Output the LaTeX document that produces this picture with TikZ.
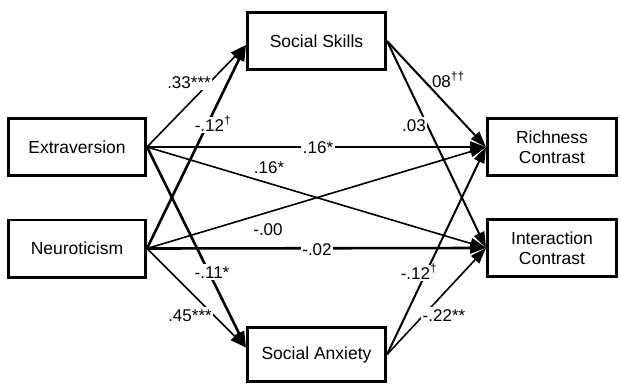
\documentclass[tikz,border=0pt]{standalone}
\usepackage{fontspec}
\setmainfont{Liberation Sans}
\usetikzlibrary{arrows.meta,calc}
\begin{document}
\begin{tikzpicture}[x=1pt,y=-1pt,
  box/.style={draw, line width=2.6pt, align=center, font=\fontsize{17.5}{20}\selectfont, inner sep=0pt},
  lbl/.style={font=\fontsize{17}{20}\selectfont, inner sep=1.5pt, text height=12.3pt, text depth=0pt},
  wl/.style={lbl, fill=white},
  arr/.style={-{Triangle[length=16pt,width=11pt]}},
  th/.style={line width=1.6pt},
  md/.style={line width=2pt},
  tk/.style={line width=2.6pt}]
\path[use as bounding box] (0,0) rectangle (621,385);
% boxes
\node[box, minimum width=137.4pt, minimum height=57.4pt] (E) at (77,147) {Extraversion};
\node[box, minimum width=137.4pt, minimum height=57.4pt] (N) at (77,248.5) {Neuroticism};
\node[box, minimum width=138.4pt, minimum height=57.4pt] (SS) at (316.5,41) {Social Skills};
\node[box, minimum width=138.4pt, minimum height=54.4pt] (SA) at (316.5,354.5) {Social Anxiety};
\node[box, minimum width=129.4pt, minimum height=57.4pt] (RC) at (552,147) {Richness\\Contrast};
\node[box, minimum width=129.4pt, minimum height=57.4pt] (IC) at (552,248) {Interaction\\Contrast};
\coordinate (SSin) at ($(SS.west)+(0,4)$);
\coordinate (SAin) at ($(SA.west)+(0,-7)$);
% connectors
\draw[arr,th] (E.east) -- (SSin);
\draw[arr,tk] (N.east) -- (SSin);
\draw[arr,tk] (E.east) -- (RC.west);
\draw[arr,th] (E.east) -- (IC.west);
\draw[arr,th] (N.east) -- (RC.west);
\draw[arr,tk] (N.east) -- (IC.west);
\draw[arr,tk] (E.east) -- (SAin);
\draw[arr,th] (N.east) -- (SAin);
\draw[arr,md] (SS.east) -- (RC.west);
\draw[arr,md] (SS.east) -- (IC.west);
\draw[arr,md] (SA.east) -- (RC.west);
\draw[arr,th] (SA.east) -- (IC.west);
% labels
\node[wl] (l1) at (189,82) {.33***};
\node[wl] (l2) at (213,125) {-.12\textsuperscript{†}};
\node[wl] (l3) at (318,147) {.16*};
\node[lbl] (l4) at (269,167) {.16*};
\node[lbl] (l5) at (268,229) {-.00};
\node[wl] (l6) at (317,249) {-.02};
\node[wl] (l7) at (212,272) {-.11*};
\node[wl] (l8) at (190,315) {.45***};
\node[lbl] (l9) at (446,81) {.08\textsuperscript{††}};
\node[wl] (l10) at (414,125) {.03};
\node[wl] (l11) at (419,273) {-.12\textsuperscript{†}};
\node[wl] (l12) at (444,315) {-.22**};
\end{tikzpicture}
\end{document}
